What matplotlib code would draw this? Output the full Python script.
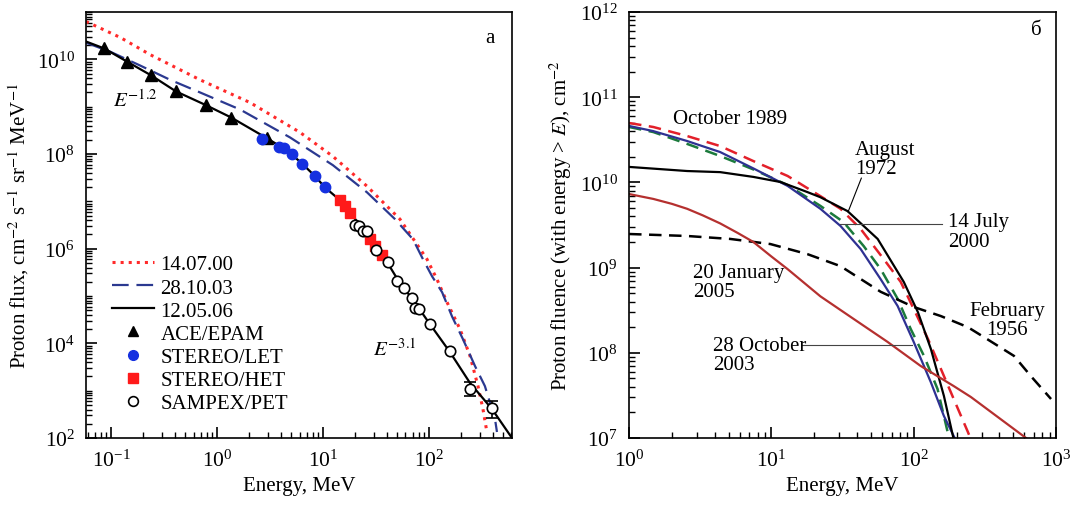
import numpy as np
import matplotlib
matplotlib.use('Agg')
import matplotlib.pyplot as plt
from matplotlib.lines import Line2D
from matplotlib.ticker import LogLocator, NullFormatter

plt.rcParams['font.family'] = ['Liberation Serif', 'DejaVu Serif']
plt.rcParams['mathtext.fontset'] = 'stix'
plt.rcParams['font.size'] = 15

#==============================================================================
# Panel a: proton flux spectra
#==============================================================================
# 14.07.00 (dotted red)
e_0700 = [0.058, 0.122, 0.233, 0.69, 2.05, 6.07, 12.4, 26.0, 53.2, 95.7, 119, 148, 196, 244, 290, 323, 352]
f_0700 = [6.3e10, 2.9e10, 1.26e10, 3.7e9, 1.22e9, 2.86e8, 8.9e7, 2.09e7, 4.2e6, 6.0e5, 2.25e5,
          7.4e4, 2.0e4, 5.4e3, 1.25e3, 4.1e2, 1.34e2]
# 28.10.03 (dashed blue)
e_1003 = [0.058, 0.098, 0.188, 0.36, 0.69, 1.65, 4.88, 12.4, 26.0, 47.8, 70.6, 87.7, 107, 133, 165,
          209, 272, 337, 420, 438]
f_1003 = [2.25e10, 1.45e10, 7.4e9, 3.7e9, 2.0e9, 8.7e8, 2.24e8, 5.8e7, 1.55e7, 4.2e6, 1.58e6, 6.0e5,
          2.6e5, 1.2e5, 3.7e4, 1.23e4, 3.3e3, 1.25e3, 2.5e2, 1.34e2]
# 12.05.06 (solid black)
e_0506 = [0.058, 0.086, 0.142, 0.238, 0.41, 0.79, 1.36, 2.96, 4.38, 6.07, 8.41, 10.4, 14.5, 18.0, 22.4,
          27.8, 34.5, 42.9, 53.2, 69.1, 102, 158, 244, 393, 607]
f_0506 = [2.38e10, 1.7e10, 8.9e9, 4.6e9, 2.1e9, 1.07e9, 5.9e8, 2.15e8, 1.26e8, 6.9e7, 3.4e7, 1.98e7,
          1.05e7, 5.8e6, 3.1e6, 1.59e6, 7.9e5, 4.1e5, 1.86e5, 8.9e4, 2.55e4, 6.5e3, 1.45e3, 4.1e2, 1e2]

ace_e = [0.086, 0.142, 0.238, 0.41, 0.79, 1.36, 2.96]
ace_f = [1.7e10, 8.9e9, 4.6e9, 2.1e9, 1.07e9, 5.9e8, 2.15e8]
let_e = [2.66, 3.85, 4.29, 5.10, 6.34, 8.41, 10.4]
let_f = [2.04e8, 1.44e8, 1.31e8, 9.8e7, 6.3e7, 3.4e7, 1.98e7]
het_e = [14.5, 16.1, 18.0, 27.8, 31.0, 36.0]
het_f = [1.05e7, 7.8e6, 5.8e6, 1.59e6, 1.12e6, 7.2e5]
pet_e = [20.0, 21.9, 23.8, 26.0, 31.6, 41.0, 49.9, 58.1, 69.1, 73.8, 80.5, 102, 158]
pet_f = [3.1e6, 2.95e6, 2.33e6, 2.33e6, 9.3e5, 5.2e5, 2.04e5, 1.45e5, 8.9e4, 5.7e4, 5.2e4, 2.55e4, 6.9e3]
pet_err_e = [244, 393]
pet_err_f = [1.08e3, 4.3e2]
pet_err_lo = [3.2e2, 1.7e2]
pet_err_hi = [4.2e2, 1.7e2]

#==============================================================================
# Panel b: fluences
#==============================================================================
e_oct89 = [1, 1.48, 2.56, 4.37, 7.47, 13.0, 22.1, 30.6, 42.4, 61.5, 81, 100, 126, 155, 191, 240, 250]
f_oct89 = [4.98e10, 4.47e10, 3.5e10, 2.67e10, 1.78e10, 1.19e10, 6.9e9, 4.9e9, 2.84e9, 1.26e9, 6.8e8,
           3.27e8, 1.45e8, 6.5e7, 2.87e7, 1.18e7, 1.0e7]
e_oct03 = [1, 1.48, 2.56, 4.37, 7.47, 13.0, 22.1, 30.6, 42.4, 58.6, 77.1, 100, 132, 163, 194]
f_oct03 = [4.6e10, 4.0e10, 3.06e10, 2.27e10, 1.46e10, 9.1e9, 4.9e9, 3.08e9, 1.65e9, 7.3e8, 3.54e8,
           1.34e8, 4.5e7, 1.81e7, 1.0e7]
e_jul00 = [1, 1.48, 2.56, 4.37, 7.47, 13.0, 22.1, 32.1, 44.5, 58.6, 77.1, 95.3, 118, 147, 173, 180]
f_jul00 = [4.47e10, 3.9e10, 2.83e10, 2.04e10, 1.42e10, 9.3e9, 5.3e9, 3.43e9, 1.79e9, 9.6e8, 4.3e8,
           1.9e8, 9.2e7, 3.76e7, 1.18e7, 1.0e7]
e_aug72 = [1, 2.56, 4.37, 7.47, 11.6, 17.9, 22.1, 34.3, 55.8, 85.1, 107, 132, 163, 190]
f_aug72 = [1.52e10, 1.36e10, 1.32e10, 1.16e10, 1.01e10, 7.7e9, 6.7e9, 4.6e9, 2.17e9, 6.8e8, 3.0e8,
           1.11e8, 3.11e7, 1.0e7]
e_feb56 = [1, 2.56, 5.14, 9.84, 17.9, 30.6, 58.6, 100, 155, 240, 311, 506, 667, 922]
f_feb56 = [2.48e9, 2.35e9, 2.17e9, 1.89e9, 1.44e9, 1.04e9, 5.2e8, 3.45e8, 2.7e8, 2.0e8, 1.53e8, 9.2e7,
           5.3e7, 2.87e7]
e_jan05 = [1, 1.48, 2.0, 2.56, 3.3, 4.37, 5.8, 7.47, 10.0, 13.0, 22.1, 37.8, 65.6, 112, 191, 252, 615]
f_jan05 = [7.3e9, 6.4e9, 5.6e9, 4.9e9, 4.1e9, 3.3e9, 2.55e9, 2.0e9, 1.35e9, 9.6e8, 4.6e8, 2.5e8, 1.34e8,
           7.0e7, 4.07e7, 3.03e7, 1.0e7]

fig = plt.figure(figsize=(10.74, 5.06), dpi=100)
ax1 = fig.add_axes([0.0801, 0.1324, 0.3966, 0.8419])
ax2 = fig.add_axes([0.5857, 0.1324, 0.3976, 0.8419])

ax1.plot(e_0700, f_0700, ':', color='#ff2a2a', lw=2.2)
ax1.plot(e_1003, f_1003, '--', color='#2b3990', lw=1.6, dashes=(7.5, 3.5))
ax1.plot(e_0506, f_0506, '-', color='k', lw=1.6)
ax1.plot(ace_e, ace_f, '^', color='k', ms=8, ls='none', zorder=3)
ax1.plot(let_e, let_f, 'o', color='#1530e0', ms=7.5, ls='none', zorder=3)
ax1.plot(het_e, het_f, 's', color='#ff1a1a', ms=7.5, ls='none', zorder=3)
ax1.plot(pet_e, pet_f, 'o', mfc='white', mec='k', mew=1.2, ms=7.5, ls='none', zorder=4)
ax1.errorbar(pet_err_e, pet_err_f, yerr=[pet_err_lo, pet_err_hi], fmt='o', mfc='white', mec='k',
             mew=1.2, ms=7.5, ecolor='k', elinewidth=1.2, capsize=4, zorder=4)

ax1.set_xscale('log')
ax1.set_yscale('log')
ax1.set_xlim(0.058, 607)
ax1.set_ylim(1e2, 1e11)
ax1.set_xlabel('Energy, MeV', labelpad=4)
ax1.set_ylabel('Proton flux, cm$^{-2}$ s$^{-1}$ sr$^{-1}$ MeV$^{-1}$')
ax1.set_yticks([1e2, 1e4, 1e6, 1e8, 1e10])
ax1.yaxis.set_minor_locator(LogLocator(base=10, subs=np.arange(1, 10), numticks=40))
ax1.yaxis.set_minor_formatter(NullFormatter())

ax1.text(0.948, 0.941, 'а', transform=ax1.transAxes, ha='center', va='center')
ax1.text(0.063, 0.793, '$E^{-1.2}$', transform=ax1.transAxes, ha='left', va='center')
ax1.text(0.674, 0.209, '$E^{-3.1}$', transform=ax1.transAxes, ha='left', va='center')

handles = [
    Line2D([], [], ls=':', color='#ff2a2a', lw=2.2),
    Line2D([], [], ls='--', color='#2b3990', lw=1.6, dashes=(7.5, 3.5)),
    Line2D([], [], ls='-', color='k', lw=1.6),
    Line2D([], [], ls='none', marker='^', color='k', ms=7),
    Line2D([], [], ls='none', marker='o', color='#1530e0', ms=7),
    Line2D([], [], ls='none', marker='s', color='#ff1a1a', ms=7),
    Line2D([], [], ls='none', marker='o', mfc='white', mec='k', mew=1.2, ms=7),
]
labels = ['14.07.00', '28.10.03', '12.05.06', 'ACE/EPAM', 'STEREO/LET', 'STEREO/HET', 'SAMPEX/PET']
ax1.legend(handles, labels, loc='upper left', bbox_to_anchor=(0.062, 0.43), frameon=False,
           borderpad=0, borderaxespad=0, handlelength=2.0, handletextpad=0.3, labelspacing=0.17,
           fontsize=15)

ax2.plot(e_oct89, f_oct89, '--', color='#e3202a', lw=1.8, dashes=(5, 3))
ax2.plot(e_jul00, f_jul00, '--', color='#1b7a3c', lw=1.8, dashes=(5, 3))
ax2.plot(e_oct03, f_oct03, '-', color='#2e3192', lw=1.6)
ax2.plot(e_aug72, f_aug72, '-', color='k', lw=1.6)
ax2.plot(e_feb56, f_feb56, '--', color='k', lw=1.8, dashes=(5, 3))
ax2.plot(e_jan05, f_jan05, '-', color='#b5302f', lw=1.6)

ax2.set_xscale('log')
ax2.set_yscale('log')
ax2.set_xlim(1, 1000)
ax2.set_ylim(1e7, 1e12)
ax2.set_xlabel('Energy, MeV', labelpad=4)
ax2.set_ylabel('Proton fluence (with energy > $E$), cm$^{-2}$')
ax2.yaxis.set_minor_formatter(NullFormatter())

tr = ax2.transAxes
ax2.text(0.103, 0.749, 'October 1989', transform=tr, ha='left', va='center')
ax2.text(0.529, 0.655, 'August\n1972', transform=tr, ha='left', va='center', linespacing=1.05)
ax2.plot([0.544, 0.513], [0.610, 0.531], transform=tr, color='k', lw=0.8)
ax2.text(0.747, 0.484, '14 July\n2000', transform=tr, ha='left', va='center', linespacing=1.05)
ax2.plot([0.494, 0.733], [0.502, 0.502], transform=tr, color='#444444', lw=0.8)
ax2.text(0.150, 0.366, '20 January\n2005', transform=tr, ha='left', va='center', linespacing=1.05)
ax2.text(0.197, 0.195, '28 October\n2003', transform=tr, ha='left', va='center', linespacing=1.05)
ax2.plot([0.405, 0.663], [0.218, 0.218], transform=tr, color='#444444', lw=0.8)
ax2.text(0.885, 0.277, 'February\n1956', transform=tr, ha='center', va='center', linespacing=1.05)
ax2.text(0.953, 0.958, 'б', transform=tr, ha='center', va='center')

for ax in (ax1, ax2):
    ax.tick_params(which='both', direction='in', top=False, right=False, labelsize=15.5)
    ax.tick_params(which='major', length=8, width=1.2, pad=8)
    ax.tick_params(which='minor', length=4.5, width=1.0)
    for sp in ax.spines.values():
        sp.set_linewidth(1.2)

fig.savefig('out.png', dpi=100)
